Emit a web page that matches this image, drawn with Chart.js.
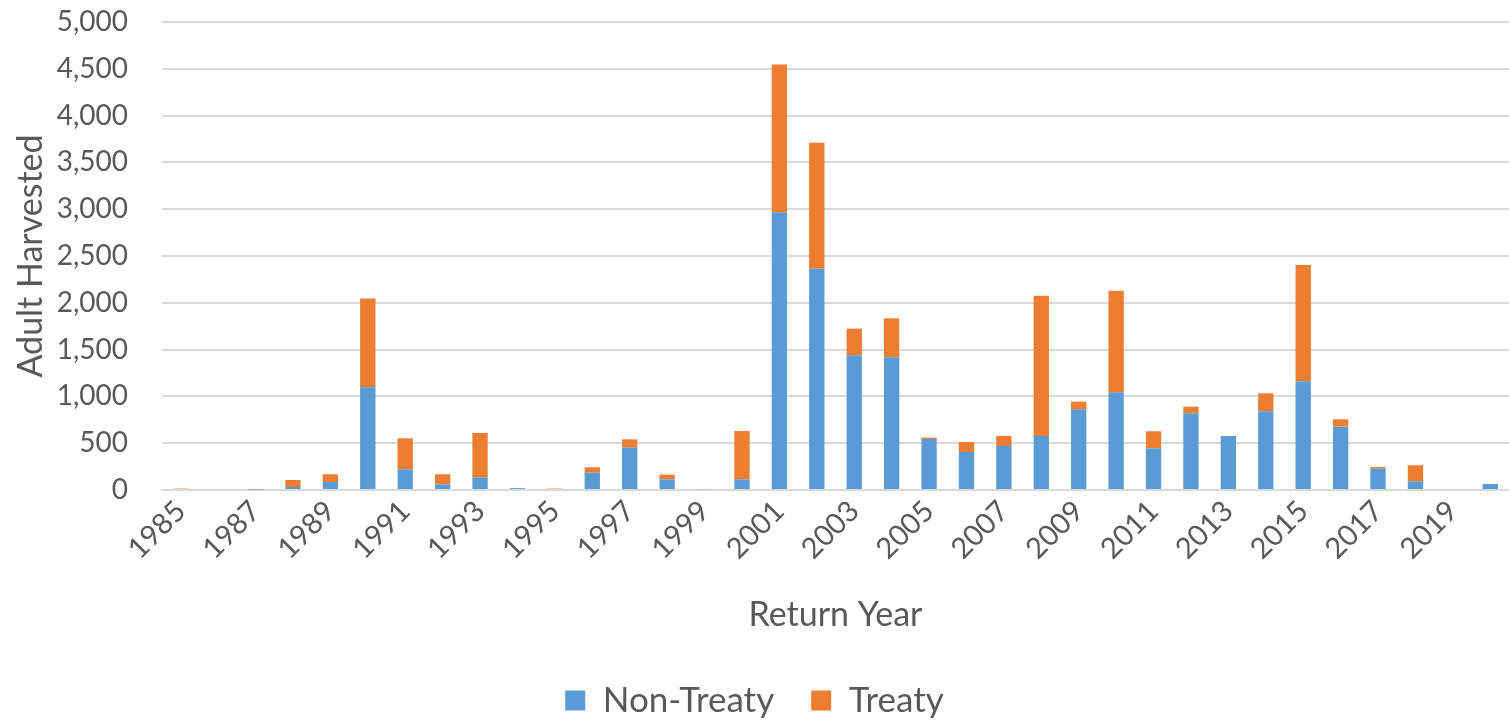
<!DOCTYPE html>
<html>
<head>
<meta charset="utf-8">
<title>Adult Harvested by Return Year</title>
<script src="https://cdn.jsdelivr.net/npm/chart.js@4/dist/chart.umd.min.js"></script>
<style>
  html, body { margin: 0; padding: 0; background: #ffffff; }
  #wrap { width: 1509px; height: 721px; position: relative; }
</style>
</head>
<body>
<div id="wrap"><canvas id="chart" width="1509" height="721"></canvas></div>
<script>
// Return years on the category axis
const years = [
  1985, 1986, 1987, 1988, 1989, 1990, 1991, 1992, 1993, 1994, 1995, 1996,
  1997, 1998, 1999, 2000, 2001, 2002, 2003, 2004, 2005, 2006, 2007, 2008,
  2009, 2010, 2011, 2012, 2013, 2014, 2015, 2016, 2017, 2018, 2019, 2020
];

// Adults harvested in non-treaty fisheries
const nonTreaty = [
  0, 0, 5, 32, 85, 1097, 221, 61, 135, 20, 0, 185,
  452, 114, 0, 114, 2967, 2365, 1439, 1417, 545, 406, 470, 577,
  862, 1044, 445, 819, 577, 841, 1161, 677, 228, 93, 0, 64
];

// Adults harvested in treaty fisheries
const treaty = [
  15, 0, 0, 75, 83, 948, 331, 107, 474, 0, 15, 57,
  89, 50, 8, 516, 1580, 1346, 285, 417, 14, 107, 107, 1499,
  82, 1086, 182, 71, 0, 192, 1243, 78, 18, 171, 0, 0
];

// Value axis ticks
const yTicks = [0, 500, 1000, 1500, 2000, 2500, 3000, 3500, 4000, 4500, 5000];

const FONT = "Lato, 'Open Sans', 'Noto Sans', sans-serif";
const TEXT = '#595959';
const GRID = '#d9d9d9';

new Chart(document.getElementById('chart'), {
  type: 'bar',
  data: {
    labels: years.map(String),
    datasets: [
      {
        label: 'Non-Treaty',
        data: nonTreaty,
        backgroundColor: '#5b9bd5',
        barPercentage: 0.41,
        categoryPercentage: 1.0
      },
      {
        label: 'Treaty',
        data: treaty,
        backgroundColor: '#ed7d31',
        barPercentage: 0.41,
        categoryPercentage: 1.0
      }
    ]
  },
  options: {
    responsive: false,
    animation: false,
    devicePixelRatio: 1,
    layout: { padding: { top: 22, right: 0, left: 0, bottom: -7 } },
    plugins: {
      tooltip: { enabled: false },
      legend: {
        position: 'bottom',
        labels: {
          color: TEXT,
          font: { family: FONT, size: 35 },
          boxWidth: 20,
          boxHeight: 20,
          padding: 37
        }
      }
    },
    scales: {
      x: {
        stacked: true,
        grid: { display: false, drawTicks: false },
        border: { display: true, color: GRID, width: 2 },
        ticks: {
          color: TEXT,
          font: { family: FONT, size: 29 },
          autoSkip: false,
          maxRotation: 45,
          minRotation: 45,
          padding: 4,
          callback: function (value, index) {
            return index % 2 === 0 ? years[index] : '';
          }
        },
        title: {
          display: true,
          text: 'Return Year',
          color: TEXT,
          font: { family: FONT, size: 34 },
          padding: { top: 0, bottom: 11 }
        },
        afterFit: function (scale) {
          scale.height = 156;
          scale.paddingLeft = 0;
          scale.paddingRight = 0;
        }
      },
      y: {
        stacked: true,
        min: 0,
        max: 5000,
        afterBuildTicks: function (scale) {
          scale.ticks = yTicks.map(v => ({ value: v }));
        },
        grid: { color: GRID, lineWidth: 2, drawTicks: false },
        border: { display: false },
        ticks: {
          color: TEXT,
          font: { family: FONT, size: 28 },
          padding: 34,
          callback: function (value) { return value.toLocaleString('en-US'); }
        },
        title: {
          display: true,
          text: 'Adult Harvested',
          color: TEXT,
          font: { family: FONT, size: 34 },
          padding: { top: 11, bottom: 0 }
        },
        afterFit: function (scale) {
          scale.width = 162;
          scale.paddingTop = 0;
          scale.paddingBottom = 0;
        }
      }
    }
  }
});
</script>
</body>
</html>
